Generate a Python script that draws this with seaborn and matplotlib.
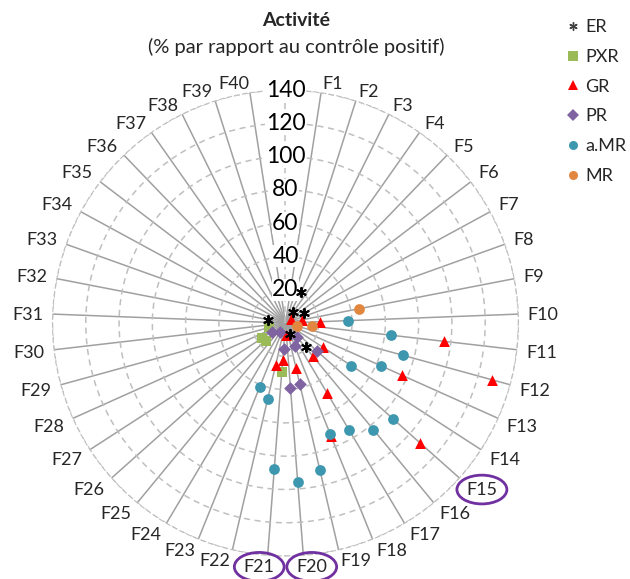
import numpy as np
import pandas as pd
import seaborn as sns
import matplotlib.pyplot as plt
from matplotlib.lines import Line2D

# %%
categories = [f'F{i}' for i in range(1, 41)]
radial_ticks = [20, 40, 60, 80, 100, 120, 140]
circled = ['F15', 'F20', 'F21']

er_cats = ['F3', 'F4', 'F7', 'F16', 'F18', 'F32']
er_vals = [21, 8, 13, 19, 7, 11]

pxr_cats = ['F21', 'F26', 'F27', 'F29']
pxr_vals = [29.5, 16, 16.5, 10]

gr_cats = ['F6', 'F9', 'F10', 'F11', 'F12', 'F13', 'F14', 'F15', 'F16', 'F17',
           'F18', 'F19', 'F20', 'F21', 'F22']
gr_vals = [4, 10, 21, 96, 129, 77, 27, 108, 26, 49, 73.5, 28, 7, 22, 26]

pr_cats = ['F15', 'F16', 'F18', 'F19', 'F20', 'F21', 'F24', 'F27']
pr_vals = [25, 11, 15, 37.5, 39, 15.5, 6, 10]

amr_cats = ['F10', 'F11', 'F12', 'F13', 'F14', 'F15', 'F16', 'F17', 'F18', 'F19',
            'F20', 'F21', 'F22', 'F23']
amr_vals = [37.5, 64, 73, 63, 47, 86.5, 83, 75, 72, 91, 96, 88, 47, 41.5]

mr_cats = ['F9', 'F11', 'F12']
mr_vals = [45, 16, 7]

series = {
    'ER': (er_cats, er_vals, (6, 2, 0), 'black', 45),
    'PXR': (pxr_cats, pxr_vals, 's', '#9BBB59', 50),
    'GR': (gr_cats, gr_vals, '^', '#FF0000', 60),
    'PR': (pr_cats, pr_vals, 'D', '#8064A2', 42),
    'a.MR': (amr_cats, amr_vals, 'o', '#3D97AE', 60),
    'MR': (mr_cats, mr_vals, 'o', '#E2873F', 60),
}

# %%
# 41 spokes: the first (top) one is empty, F1..F40 follow clockwise
n_spokes = len(categories) + 1
cat_theta = {c: (i + 1) * 2 * np.pi / n_spokes for i, c in enumerate(categories)}

frames = []
for name, (cats, vals, _, _, _) in series.items():
    frames.append(pd.DataFrame({'cat': cats, 'value': vals, 'series': name}))
df = pd.concat(frames, ignore_index=True)
df['theta'] = df['cat'].map(cat_theta)

# %%
sns.set_style('white')
plt.rcParams['font.family'] = ['Lato', 'DejaVu Sans']

fig = plt.figure(figsize=(6.3, 5.79), dpi=100)
ax = fig.add_axes([0.0833, 0.0397, 0.7397, 0.8048], projection='polar')
ax.set_theta_zero_location('N')
ax.set_theta_direction(-1)
ax.set_ylim(0, 140)

ax.set_xticks(list(cat_theta.values()))
ax.set_xticklabels([])
ax.set_yticks(radial_ticks)
ax.set_yticklabels([])
ax.xaxis.grid(True, color='#A0A0A0', lw=1.1, ls='-')
ax.yaxis.grid(True, color='#BFBFBF', lw=1.1, ls=(0, (4, 3)))
ax.spines['polar'].set_color('#BFBFBF')
ax.spines['polar'].set_linestyle((0, (4, 3)))
ax.plot([0, 0], [0, 140], color='#BFBFBF', lw=1.1, ls=(0, (4, 3)), zorder=1)

for t in radial_ticks:
    ax.text(0, t, str(t), ha='center', va='center', fontsize=16.5, color='black',
            bbox=dict(facecolor='white', edgecolor='none', pad=0.3), zorder=3)

# category labels placed just outside the spoke ends
for c, th in cat_theta.items():
    s, co = np.sin(th), np.cos(th)
    w = 9 + 10.5 * (len(c) - 1)
    dx = np.sign(s) * min(1, abs(s) / 0.15) * w / 2 + 10 * s
    dy = np.clip(co / 0.6, -1, 1) * 10 - 6.5
    bbox = None
    if c in circled:
        bbox = dict(boxstyle='ellipse,pad=0.12', facecolor='none', edgecolor='#7030A0', lw=2)
    ax.annotate(c, xy=(th, 140), xytext=(dx * 0.72, dy * 0.72), textcoords='offset points',
                ha='center', va='baseline', fontsize=13, annotation_clip=False, bbox=bbox)

for name, (cats, vals, marker, color, size) in series.items():
    sub = df[df['series'] == name]
    if name == 'ER':
        sns.scatterplot(data=sub, x='theta', y='value', marker=marker, color=color, s=size,
                        linewidth=1.4, ax=ax, legend=False, zorder=5)
    else:
        sns.scatterplot(data=sub, x='theta', y='value', marker=marker, color=color, s=size,
                        linewidth=0, ax=ax, legend=False, zorder=4)
ax.set_xlabel('')
ax.set_ylabel('')

fig.text(296 / 630, 1 - 20 / 579, 'Activité', ha='center', va='center',
         fontsize=14, fontweight='bold')
fig.text(296 / 630, 1 - 47 / 579, '(% par rapport au contrôle positif)', ha='center',
         va='center', fontsize=14.5)

handles = []
for name, (_, _, marker, color, size) in series.items():
    if name == 'ER':
        handles.append(Line2D([], [], ls='none', marker=marker, color='#404040', markersize=6,
                              markeredgewidth=1.0, label=name))
    else:
        handles.append(Line2D([], [], ls='none', marker=marker, color=color, markersize=6.5,
                              markeredgewidth=0, label=name))
fig.legend(handles=handles, loc='upper left', bbox_to_anchor=(550 / 630, 1 - 3 / 579),
           frameon=False, fontsize=13, handlelength=0.8, handletextpad=0.25, labelspacing=0.76)

plt.savefig('out.png', dpi=100)
